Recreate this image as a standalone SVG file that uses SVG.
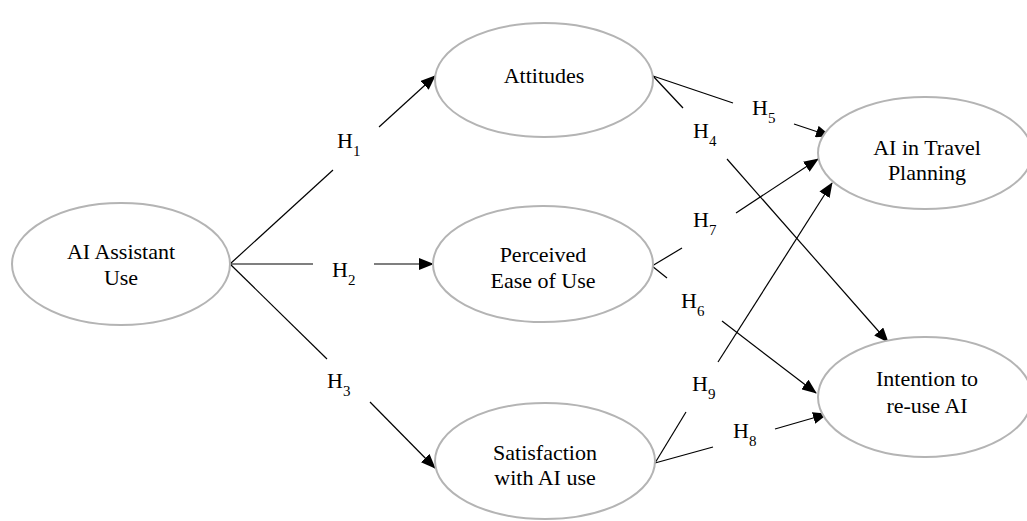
<svg xmlns="http://www.w3.org/2000/svg" width="1027" height="521" viewBox="0 0 1027 521">
<defs>
<marker id="arr" markerUnits="userSpaceOnUse" markerWidth="15" markerHeight="12" refX="14" refY="6" orient="auto">
<path d="M0,0 L15,6 L0,12 z" fill="#000"/>
</marker>
<style>
.node ellipse{fill:#fff;stroke:#b4b4b4;stroke-width:2}
.conn line{stroke:#000;stroke-width:1.2}
.conn .a{marker-end:url(#arr)}
</style>
</defs>
<rect width="1027" height="521" fill="#fff"/>
<g id="connectors" class="conn">
<line x1="230" y1="264" x2="333" y2="170"/><line class="a" x1="379" y1="127" x2="435" y2="76"/>
<line x1="230" y1="264" x2="313" y2="264"/><line class="a" x1="374" y1="264" x2="433" y2="264"/>
<line x1="230" y1="264" x2="327" y2="359"/><line class="a" x1="370" y1="402" x2="435" y2="468"/>
<line x1="653" y1="76" x2="683" y2="108"/><line class="a" x1="727" y1="159" x2="888" y2="342"/>
<line x1="653" y1="76" x2="733" y2="103"/><line class="a" x1="794" y1="124" x2="830" y2="136"/>
<line x1="652" y1="266" x2="667" y2="278"/><line class="a" x1="722" y1="321" x2="816" y2="393"/>
<line x1="652" y1="266" x2="682" y2="248"/><line class="a" x1="736" y1="213" x2="818" y2="159"/>
<line x1="655" y1="463" x2="713" y2="447"/><line class="a" x1="775" y1="429" x2="827" y2="414"/>
<line x1="655" y1="463" x2="686" y2="412"/><line class="a" x1="718" y1="362" x2="832" y2="183"/>
</g>
<g id="labels" font-family="Liberation Serif, Times New Roman, serif" font-size="22" fill="#000">
<text x="337" y="148">H<tspan dy="8" font-size="15">1</tspan></text>
<text x="332" y="277">H<tspan dy="8" font-size="15">2</tspan></text>
<text x="327" y="388">H<tspan dy="8" font-size="15">3</tspan></text>
<text x="693" y="138">H<tspan dy="8" font-size="15">4</tspan></text>
<text x="752" y="115">H<tspan dy="8" font-size="15">5</tspan></text>
<text x="681" y="308">H<tspan dy="8" font-size="15">6</tspan></text>
<text x="693" y="227">H<tspan dy="8" font-size="15">7</tspan></text>
<text x="733" y="438">H<tspan dy="8" font-size="15">8</tspan></text>
<text x="692" y="391">H<tspan dy="8" font-size="15">9</tspan></text>
</g>
<g id="n-ai-assistant" class="node" font-family="Liberation Serif, Times New Roman, serif" font-size="22" text-anchor="middle">
<ellipse cx="121" cy="264" rx="109" ry="61"/>
<text x="121" y="259">AI Assistant</text><text x="121" y="285">Use</text>
</g>
<g id="n-attitudes" class="node" font-family="Liberation Serif, Times New Roman, serif" font-size="22" text-anchor="middle">
<ellipse cx="544" cy="80" rx="109" ry="57"/>
<text x="544" y="83">Attitudes</text>
</g>
<g id="n-ease" class="node" font-family="Liberation Serif, Times New Roman, serif" font-size="22" text-anchor="middle">
<ellipse cx="543" cy="264" rx="110" ry="58"/>
<text x="543" y="262">Perceived</text><text x="543" y="288">Ease of Use</text>
</g>
<g id="n-satisfaction" class="node" font-family="Liberation Serif, Times New Roman, serif" font-size="22" text-anchor="middle">
<ellipse cx="545" cy="461" rx="110" ry="58"/>
<text x="545" y="460">Satisfaction</text><text x="545" y="485">with AI use</text>
</g>
<g id="n-travel" class="node" font-family="Liberation Serif, Times New Roman, serif" font-size="22" text-anchor="middle">
<ellipse cx="925" cy="153" rx="107" ry="56"/>
<text x="927" y="155">AI in Travel</text><text x="927" y="180">Planning</text>
</g>
<g id="n-intention" class="node" font-family="Liberation Serif, Times New Roman, serif" font-size="22" text-anchor="middle">
<ellipse cx="925" cy="397" rx="107" ry="60"/>
<text x="927" y="386">Intention to</text><text x="927" y="413">re-use AI</text>
</g>
</svg>
